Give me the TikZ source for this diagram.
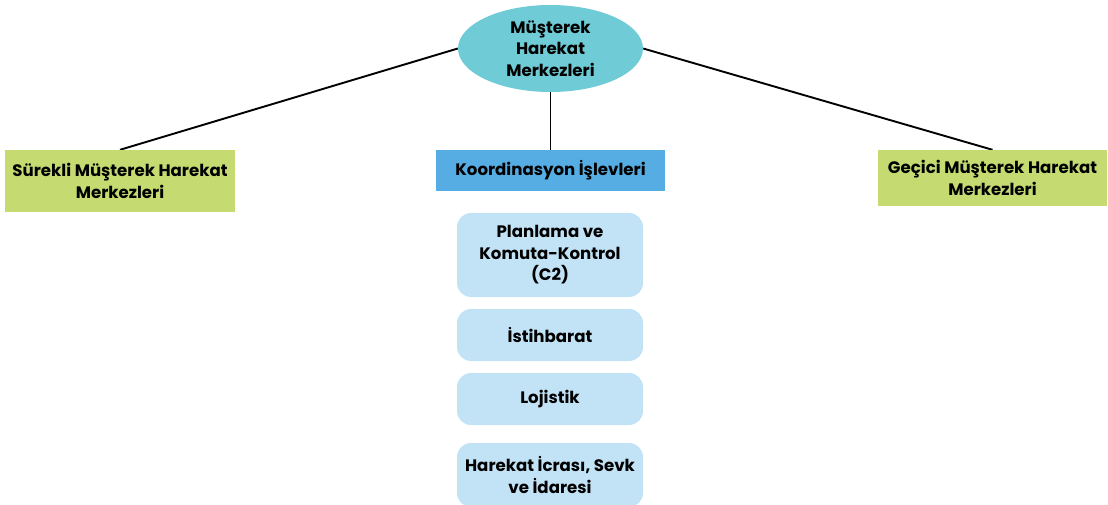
\documentclass[tikz,border=0pt]{standalone}
\usepackage{fontspec}
\setmainfont{Poppins}
\usetikzlibrary{shapes.geometric,backgrounds}
\definecolor{teal}{HTML}{6FCBD6}
\definecolor{lgreen}{HTML}{C5DB71}
\definecolor{mblue}{HTML}{55ADE3}
\definecolor{lblue}{HTML}{C2E3F6}
\tikzset{
  lbl/.style={font=\bfseries\fontsize{16.6}{21.5}\selectfont, align=center, text=black},
  greenbox/.style={lbl, fill=lgreen, inner sep=0pt},
  subbox/.style={lbl, fill=lblue, rounded corners=14pt, minimum width=186pt, inner sep=0pt},
  conn/.style={draw=black, line width=1.9pt}
}
\begin{document}
\begin{tikzpicture}[x=1pt,y=-1pt]
\useasboundingbox (0,0) rectangle (1108,505);
\node[ellipse, fill=teal, minimum width=185pt, minimum height=87pt, inner sep=0pt, lbl] (top) at (550.5,48.5) {Müşterek\\Harekat\\Merkezleri};
\node[greenbox, minimum width=230pt, minimum height=62pt] (left) at (120,181) {Sürekli Müşterek Harekat\\Merkezleri};
\node[lbl, fill=mblue, minimum width=229pt, minimum height=41pt, inner sep=0pt] (mid) at (550.5,170.5) {Koordinasyon İşlevleri};
\node[greenbox, minimum width=229pt, minimum height=56pt] (right) at (992.5,178) {Geçici Müşterek Harekat\\Merkezleri};
\node[subbox, minimum height=84pt] (s1) at (550,255) {Planlama ve\\Komuta-Kontrol\\(C2)};
\node[subbox, minimum height=52pt] (s2) at (550,335) {İstihbarat};
\node[subbox, minimum height=52pt] (s3) at (550,399) {Lojistik};
\node[subbox, minimum height=64pt] (s4) at (550,475) {Harekat İcrası, Sevk\\ve İdaresi};
\begin{scope}[on background layer]
\draw[conn] (top.west) -- (left.north);
\draw[conn] (top.east) -- (right.north);
\draw[conn] (top.south) -- (mid.north);
\end{scope}
\end{tikzpicture}
\end{document}
